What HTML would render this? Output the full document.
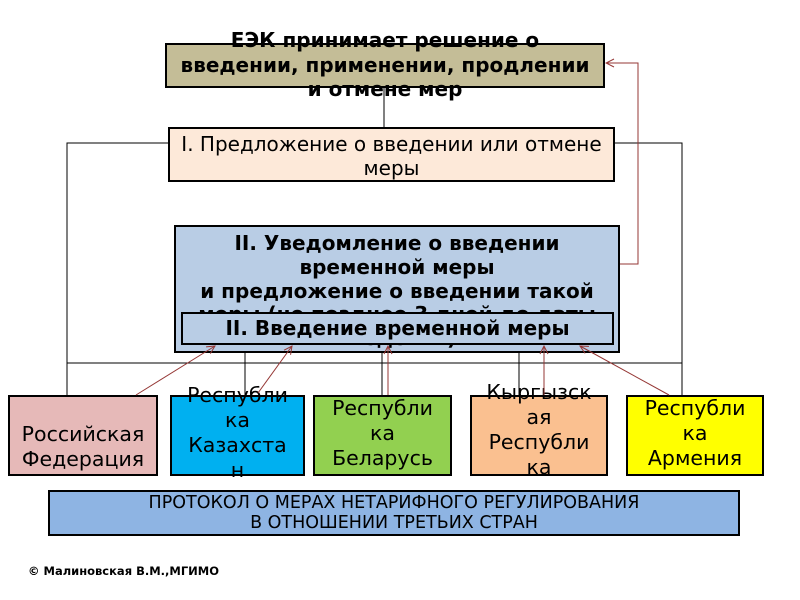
<!DOCTYPE html>
<html><head><meta charset="utf-8"><style>
body{margin:0;width:800px;height:600px;background:#fff;position:relative;overflow:hidden;font-family:"DejaVu Sans","Liberation Sans",sans-serif}
.b{position:absolute;box-sizing:border-box;border:2px solid #000}
.t{position:absolute;text-align:center;white-space:nowrap}
svg{position:absolute;left:0;top:0}
</style></head><body>
<svg width="800" height="600">
<g stroke="#000" stroke-width="1" fill="none">
<line x1="384" y1="87" x2="384" y2="127"/>
<polyline points="168,143 67,143 67,395"/>
<polyline points="614,143 682,143 682,395"/>
<line x1="67" y1="363" x2="682" y2="363"/>
<line x1="245" y1="340" x2="245" y2="395"/>
<line x1="382" y1="340" x2="382" y2="395"/>
<line x1="519" y1="340" x2="519" y2="395"/>
</g>
</svg>
<div class="b" style="left:165px;top:43px;width:440px;height:45px;background:#c4bd97"></div>
<div class="t" style="left:165px;top:28px;width:440px;font-weight:bold;font-size:20px;line-height:24.5px">ЕЭК принимает решение о<br>введении, применении, продлении<br>и отмене мер</div>
<div class="b" style="left:168px;top:127px;width:447px;height:55px;background:#fde9d9;font-size:20px;line-height:24px;text-align:center;padding-top:3px;white-space:nowrap">I. Предложение о введении или отмене<br>меры</div>
<div class="b" style="left:174px;top:225px;width:446px;height:128px;background:#b9cde5;overflow:hidden;font-weight:bold;font-size:20px;line-height:23.8px;text-align:center;padding-top:5px;white-space:nowrap">II. Уведомление о введении<br>временной меры<br>и предложение о введении такой<br>меры (не позднее 3 дней до даты<br>введения)</div>
<div class="b" style="left:181px;top:312px;width:433px;height:33px;background:#b9cde5;font-weight:bold;font-size:20px;line-height:29px;text-align:center">II. Введение временной меры</div>
<div class="b" style="left:8px;top:395px;width:150px;height:81px;background:#e6b9b8"></div>
<div class="b" style="left:170px;top:395px;width:135px;height:81px;background:#00b0f0"></div>
<div class="b" style="left:313px;top:395px;width:139px;height:81px;background:#92d050"></div>
<div class="b" style="left:470px;top:395px;width:138px;height:81px;background:#fac090"></div>
<div class="b" style="left:626px;top:395px;width:138px;height:81px;background:#ffff00"></div>
<div class="t" style="left:8px;top:422px;width:150px;font-size:20.5px;line-height:25px">Российская<br>Федерация</div>
<div class="t" style="left:170px;top:383px;width:135px;font-size:20.5px;line-height:25px">Республи<br>ка<br>Казахста<br>н</div>
<div class="t" style="left:313px;top:396px;width:139px;font-size:20.5px;line-height:25px">Республи<br>ка<br>Беларусь</div>
<div class="t" style="left:470px;top:380px;width:138px;font-size:20.5px;line-height:25px">Кыргызск<br>ая<br>Республи<br>ка</div>
<div class="t" style="left:626px;top:396px;width:138px;font-size:20.5px;line-height:25px">Республи<br>ка<br>Армения</div>
<div class="b" style="left:48px;top:490px;width:692px;height:46px;background:#8eb4e3;font-size:17.5px;line-height:20px;text-align:center;padding-top:1px;white-space:nowrap">ПРОТОКОЛ О МЕРАХ НЕТАРИФНОГО РЕГУЛИРОВАНИЯ<br>В ОТНОШЕНИИ ТРЕТЬИХ СТРАН</div>
<svg width="800" height="600">
<defs><marker id="a" markerWidth="10" markerHeight="10" refX="9" refY="5" orient="auto" markerUnits="userSpaceOnUse"><path d="M1,1 L9,5 L1,9" fill="none" stroke="#953735" stroke-width="1"/></marker></defs>
<g stroke="#953735" stroke-width="1" fill="none" marker-end="url(#a)">
<polyline points="620,264 638,264 638,63 606,63"/>
<line x1="136" y1="395" x2="215" y2="346"/>
<line x1="258" y1="393" x2="292" y2="346"/>
<line x1="388" y1="395" x2="388" y2="346"/>
<line x1="544" y1="395" x2="544" y2="346"/>
<line x1="669" y1="395" x2="580" y2="346"/>
</g>
</svg>
<div class="t" style="left:28px;top:564px;font-weight:bold;font-size:11.5px">© Малиновская В.М.,МГИМО</div>
</body></html>
